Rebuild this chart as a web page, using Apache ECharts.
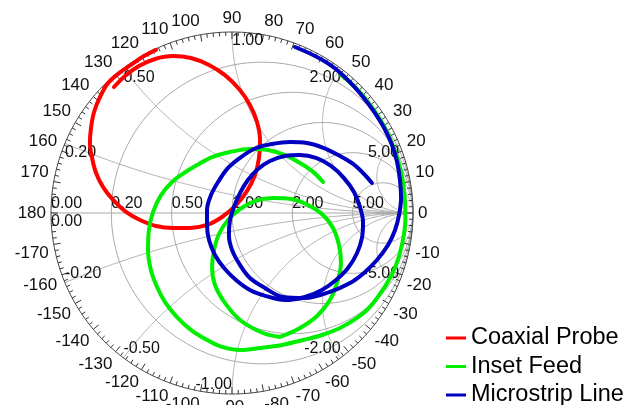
<!DOCTYPE html>
<html><head><meta charset="utf-8">
<script src="https://cdn.jsdelivr.net/npm/echarts@6/dist/echarts.min.js"></script>
<style>html,body{margin:0;padding:0;background:#fff}#c{width:630px;height:405px}</style>
</head><body><div id="c"></div>
<script>
// ---- DATA (reflection coefficient Γ = [re, im]) ----
const seriesNames = ['Coaxial Probe', 'Inset Feed', 'Microstrip Line'];
const coaxialProbe = [
 [-0.420,0.901],[-0.486,0.867],[-0.552,0.823],[-0.624,0.773],[-0.685,0.718],[-0.729,0.641],
 [-0.762,0.558],[-0.779,0.470],[-0.785,0.387],[-0.773,0.304],[-0.751,0.221],[-0.713,0.144],
 [-0.657,0.072],[-0.586,0.006],[-0.508,-0.039],[-0.420,-0.072],[-0.326,-0.083],[-0.232,-0.083],
 [-0.138,-0.066],[-0.055,-0.022],[0.022,0.044],[0.083,0.122],[0.127,0.210],[0.149,0.304],
 [0.155,0.403],[0.138,0.503],[0.099,0.597],[0.039,0.685],[-0.039,0.762],[-0.127,0.818],
 [-0.227,0.856],[-0.326,0.867],[-0.425,0.851],[-0.514,0.812],[-0.591,0.757],[-0.652,0.696]
];
const insetFeedOuter = [
 [0.599,0.766],[0.688,0.688],[0.764,0.597],[0.838,0.483],[0.894,0.361],[0.933,0.233],
 [0.953,0.100],[0.958,-0.033],[0.941,-0.166],[0.904,-0.294],[0.851,-0.397],[0.762,-0.519],
 [0.691,-0.580],[0.597,-0.635],[0.497,-0.674],[0.392,-0.702],[0.276,-0.729],[0.155,-0.746],
 [0.044,-0.757],[-0.055,-0.740],[-0.138,-0.702],[-0.227,-0.646],[-0.304,-0.575],[-0.370,-0.492],
 [-0.414,-0.409],[-0.448,-0.315],[-0.464,-0.204],[-0.459,-0.094],[-0.436,0.006],[-0.392,0.099],
 [-0.331,0.171],[-0.265,0.221],[-0.193,0.265],[-0.110,0.309],[-0.011,0.337],[0.099,0.354],
 [0.199,0.348],[0.293,0.320],[0.376,0.276],[0.448,0.227],[0.503,0.171]
];
const insetFeedInner = [
 [0.265,-0.685],[0.171,-0.663],[0.044,-0.591],[-0.039,-0.497],[-0.094,-0.398],[-0.110,-0.298],
 [-0.099,-0.204],[-0.072,-0.116],[-0.022,-0.039],[0.044,0.022],[0.127,0.066],[0.227,0.083],
 [0.326,0.077],[0.420,0.044],[0.503,-0.011],[0.558,-0.083],[0.591,-0.177],[0.602,-0.276],
 [0.580,-0.387],[0.541,-0.481],[0.470,-0.569],[0.376,-0.635],[0.265,-0.685]
];
const microstripLine = [
 [0.348,0.917],[0.459,0.867],[0.558,0.807],[0.646,0.729],[0.724,0.641],[0.790,0.552],
 [0.840,0.470],[0.884,0.376],[0.912,0.282],[0.928,0.182],[0.934,0.083],[0.923,-0.011],
 [0.901,-0.094],[0.862,-0.177],[0.801,-0.260],[0.729,-0.331],[0.652,-0.387],[0.541,-0.436],
 [0.403,-0.470],[0.282,-0.464],[0.182,-0.414],[0.099,-0.359],[0.044,-0.287],[0.000,-0.204],
 [-0.017,-0.122],[-0.011,-0.039],[0.011,0.033],[0.044,0.110],[0.088,0.182],[0.144,0.243],
 [0.210,0.287],[0.293,0.315],[0.376,0.320],[0.464,0.304],[0.547,0.260],[0.619,0.193],
 [0.674,0.116],[0.707,0.033],[0.724,-0.050],[0.718,-0.138],[0.691,-0.221],[0.641,-0.304],
 [0.575,-0.370],[0.497,-0.425],[0.403,-0.464],[0.293,-0.481],[0.188,-0.459],[0.099,-0.425],
 [0.022,-0.370],[-0.044,-0.304],[-0.094,-0.232],[-0.127,-0.149],[-0.138,-0.066],[-0.138,0.017],
 [-0.116,0.099],[-0.077,0.171],[-0.022,0.249],[0.050,0.309],[0.133,0.359],[0.221,0.381],
 [0.320,0.392],[0.414,0.387],[0.508,0.359],[0.597,0.315],[0.669,0.271],[0.724,0.221],[0.773,0.166]
];
// Smith grid values and labels
const resistanceValues = [0.2, 0.5, 1, 2, 5];
const reactanceValues = [0.2, 0.5, 1, 2, 5];
const resistanceLabels = ['0.00', '0.20', '0.50', '1.00', '2.00', '5.00'];
const reactanceLabelsPos = ['0.20', '0.50', '1.00', '2.00', '5.00'];
const reactanceLabelsNeg = ['-0.20', '-0.50', '-1.00', '-2.00', '-5.00'];
const angleLabels = [0,10,20,30,40,50,60,70,80,90,100,110,120,130,140,150,160,170,180,
 -170,-160,-150,-140,-130,-120,-110,-100,-90,-80,-70,-60,-50,-40,-30,-20,-10];

// ---- GEOMETRY ----
const FONT = '"Liberation Sans", Arial, sans-serif';
const gridLines = [];
function gammaOf(r, x) {
  const d = (r + 1) * (r + 1) + x * x;
  return [(r * r - 1 + x * x) / d, (2 * x) / d];
}
resistanceValues.forEach(r => {
  const c = r / (1 + r), rad = 1 / (1 + r), pts = [];
  for (let i = 0; i <= 360; i += 2) { const t = i * Math.PI / 180; pts.push([c + rad * Math.cos(t), rad * Math.sin(t)]); }
  gridLines.push({ pts, color: '#a8a8a8', w: 1 });
});
reactanceValues.forEach(x => {
  [x, -x].forEach(xx => {
    const pts = [];
    for (let k = 0; k < 400; k++) { const r = Math.tan(k / 400 * Math.PI / 2); pts.push(gammaOf(r, xx)); }
    pts.push([1, 0]);
    gridLines.push({ pts, color: '#a8a8a8', w: 1 });
  });
});
gridLines.push({ pts: [[-1, 0], [1, 0]], color: '#a8a8a8', w: 1 });
(function () { const pts = []; for (let i = 0; i <= 360; i += 1) { const t = i * Math.PI / 180; pts.push([Math.cos(t), Math.sin(t)]); } gridLines.push({ pts, color: '#444', w: 1 }); })();

const ticks = [];
for (let d = -178; d <= 180; d += 2) ticks.push({ deg: d, len: d % 10 === 0 ? 7 : 4 });

const labels = [];
angleLabels.forEach(a => {
  const t = a * Math.PI / 180, c = Math.cos(t), s = Math.sin(t);
  labels.push({ g: [c, s], out: 5, dir: [c, s], text: String(a), font: '17px ' + FONT,
    align: Math.abs(c) < 0.01 ? 'center' : (c < 0 ? 'right' : 'left'),
    va: Math.abs(s) < 0.01 ? 'middle' : (s > 0 ? 'bottom' : 'top') });
});
[0].concat(resistanceValues).forEach((r, i) => {
  labels.push({ g: [(r - 1) / (r + 1), 0], text: resistanceLabels[i], font: '16px ' + FONT, align: 'left', va: 'bottom', dy: 1 });
});
labels.push({ g: [-1, 0], text: resistanceLabels[0], font: '16px ' + FONT, align: 'left', va: 'top', dy: 1 });
reactanceValues.forEach((x, i) => {
  labels.push({ g: gammaOf(0, x), text: reactanceLabelsPos[i], font: '16px ' + FONT, align: x <= 1 ? 'left' : 'right', va: 'top', dy: 1 });
  labels.push({ g: gammaOf(0, -x), text: reactanceLabelsNeg[i], font: '16px ' + FONT, align: x < 1 ? 'left' : 'right', va: 'bottom', dy: 1 });
});

const chart = echarts.init(document.getElementById('c'), null, { renderer: 'canvas' });
const idx = n => Array.from({ length: n }, (_, i) => [0, 0, i]);
function lineSeries(name, data, color) {
  return { type: 'line', name, data, symbol: 'none', smooth: 0.35, color,
    lineStyle: { width: 4, color, cap: 'round', join: 'round' }, animation: false, z: 5 };
}
const legendRows = seriesNames.map((n, i) => ({
  data: [n], orient: 'vertical', left: 446, top: 326 + i * 28.5,
  itemWidth: 20, itemHeight: 3, icon: 'rect', padding: 0,
  textStyle: { fontFamily: FONT, fontSize: 23.5, color: '#000' }
}));
chart.setOption({
  animation: false,
  grid: { left: 51, top: 32, width: 362, height: 362 },
  xAxis: { type: 'value', min: -1, max: 1, show: false },
  yAxis: { type: 'value', min: -1, max: 1, show: false },
  legend: legendRows,
  series: [
    { type: 'custom', silent: true, z: 1, data: idx(gridLines.length), renderItem: (p, api) => {
        const g = gridLines[api.value(2)];
        return { type: 'polyline', shape: { points: g.pts.map(q => api.coord(q)) }, style: { stroke: g.color, lineWidth: g.w, fill: null } };
    } },
    { type: 'custom', silent: true, z: 2, data: idx(ticks.length), renderItem: (p, api) => {
        const tk = ticks[api.value(2)], t = tk.deg * Math.PI / 180;
        const o = api.coord([Math.cos(t), Math.sin(t)]), c = api.coord([0, 0]);
        const dx = c[0] - o[0], dy = c[1] - o[1], L = Math.hypot(dx, dy);
        return { type: 'line', shape: { x1: o[0], y1: o[1], x2: o[0] + dx / L * tk.len, y2: o[1] + dy / L * tk.len }, style: { stroke: '#333', lineWidth: 1 } };
    } },
    { type: 'custom', silent: true, z: 3, data: idx(labels.length), renderItem: (p, api) => {
        const L = labels[api.value(2)], pt = api.coord(L.g);
        let x = pt[0], y = pt[1];
        if (L.out) { x += L.out * L.dir[0]; y -= L.out * L.dir[1]; }
        if (L.dy) y += (L.va === 'top' ? L.dy : -L.dy);
        return { type: 'text', x, y, style: { text: L.text, font: L.font, fill: '#111', align: L.align, verticalAlign: L.va } };
    } },
    lineSeries(seriesNames[0], coaxialProbe, '#ff0000'),
    lineSeries(seriesNames[1], insetFeedOuter, '#00ee00'),
    lineSeries(seriesNames[1], insetFeedInner, '#00ee00'),
    lineSeries(seriesNames[2], microstripLine, '#0000c0')
  ]
});
</script></body></html>
